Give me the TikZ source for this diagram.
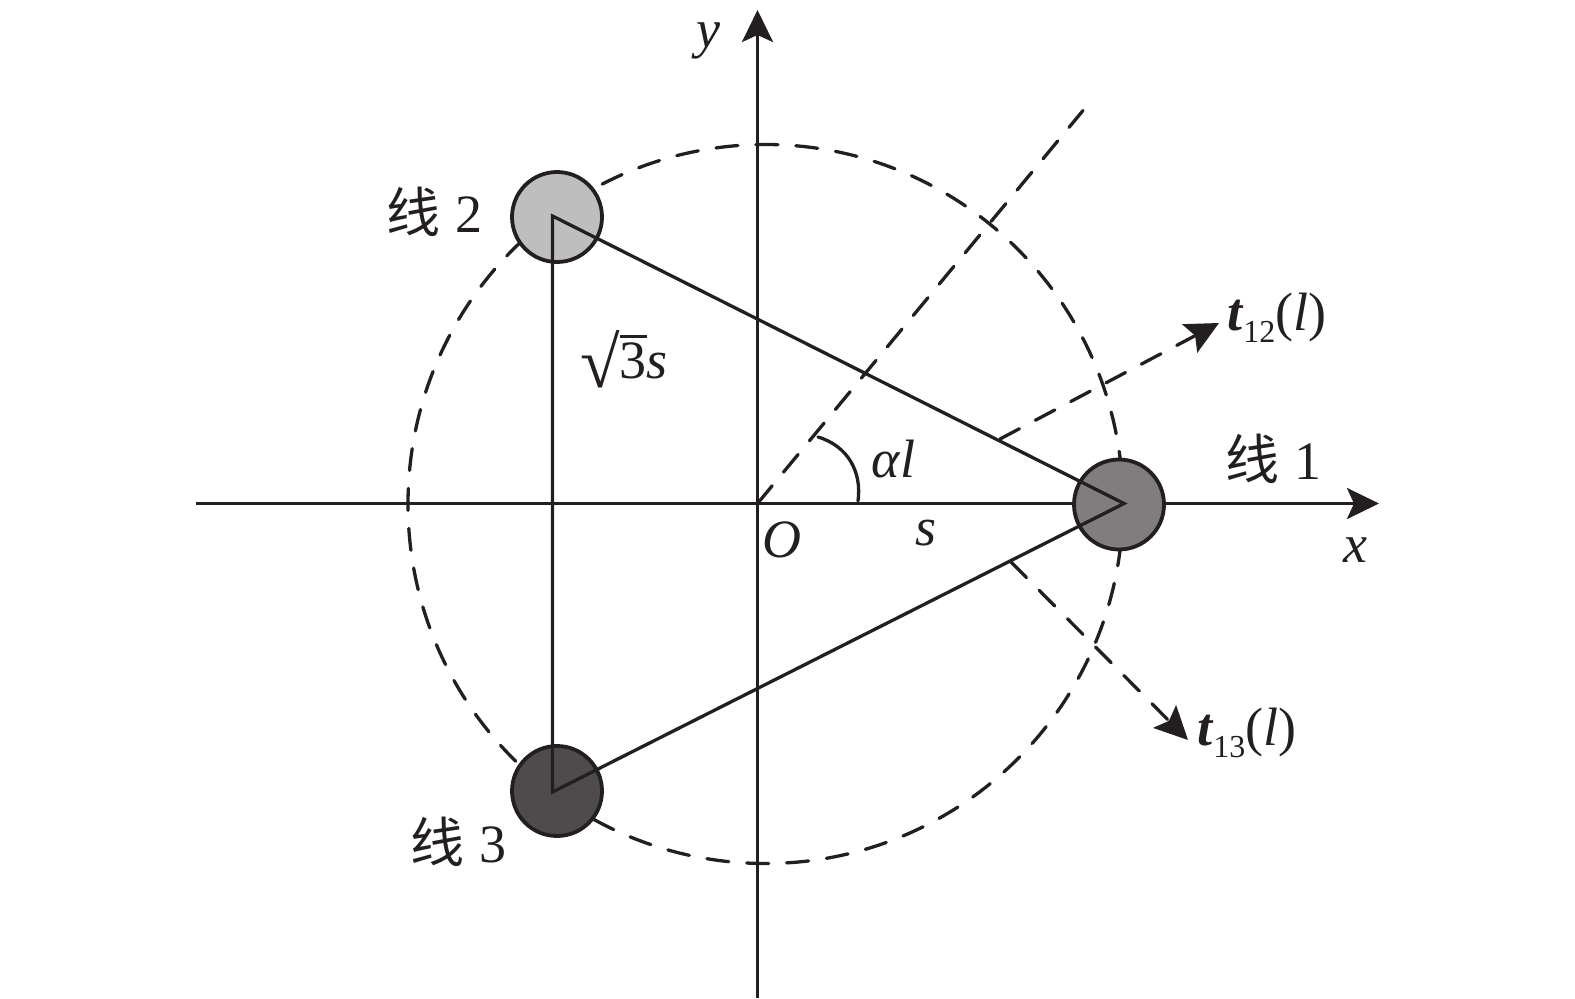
\documentclass[tikz,border=0pt]{standalone}
\usepackage{fontspec}
\setmainfont{Liberation Serif}
\newfontfamily\cjk{Noto Sans CJK SC}[Scale=1.0]
\usetikzlibrary{arrows.meta}
\definecolor{ink}{HTML}{231F20}
\definecolor{wirea}{HTML}{7F7D7E}
\definecolor{wireb}{HTML}{BEBEBE}
\definecolor{wirec}{HTML}{4D4B4C}
\newcommand{\lab}{\fontsize{54}{60}\selectfont}
\newcommand{\cjklab}[1]{{\cjk\fontsize{54}{60}\selectfont #1}}
\newcommand{\tlab}[1]{\textbf{\textit{t}}\raisebox{-12pt}{\fontsize{32}{36}\selectfont #1}(\textit{l})}
\tikzset{
  every node/.style={inner sep=0pt,outer sep=0pt,text=ink,font=\lab},
  solidline/.style={draw=ink,line width=3.3pt},
  dashline/.style={draw=ink,line width=3.3pt,line cap=round,dash pattern=on 22pt off 18pt},
  wire/.style={circle,draw=ink,line width=3.8pt,minimum size=90pt},
  axis/.style={solidline,-{Stealth[length=32pt,width=31pt,inset=7pt]}},
  dasharrow/.style={dashline,-{Stealth[length=33pt,width=32pt,inset=6pt]}},
}
\begin{document}
\begin{tikzpicture}[x=1pt,y=-1pt]
\useasboundingbox (0,0) rectangle (1575,999);
% guide points
\coordinate (O) at (757.5,503.5);
\coordinate (xs) at (196,503.5);
\coordinate (xe) at (1379,503.5);
\coordinate (ys) at (757.5,998);
\coordinate (ye) at (757.5,10);
\coordinate (v1) at (1124,503.5);
\coordinate (v2) at (552.5,216);
\coordinate (v3) at (552.5,792);
\coordinate (d) at (1083,110.5);
\coordinate (a12) at (1000,439);
\coordinate (b12) at (1219,323);
\coordinate (a13) at (1011,562);
\coordinate (b13) at (1188,740);
\coordinate (arcs) at (858,501);
\coordinate (arce) at (818,437);
% dashed circle
\draw[dashline] (765.5,504) ellipse [x radius=357.5,y radius=359.5];
% axes
\draw[axis] (xs) -- (xe);
\draw[axis] (ys) -- (ye);
% wires
\node[wire,fill=wirea] (w1) at (1119,504.5) {};
\node[wire,fill=wireb] (w2) at (557,217) {};
\node[wire,fill=wirec] (w3) at (557,791) {};
% triangle
\draw[solidline,line join=miter] (v2) -- (v1) -- (v3) -- cycle;
% dashed lines
\draw[dashline,dash pattern=on 23pt off 17.7pt] (O) -- (d);
\draw[dasharrow] (a12) -- (b12);
\draw[dasharrow] (a13) -- (b13);
% angle arc
\draw[solidline,line cap=round] (arcs) .. controls (862,472) and (848,446) .. (arce);
% labels
\node[anchor=base west] (ly) at (696,47) {\textit{y}};
\node[anchor=base west] (lx) at (1343,562) {\textit{x}};
\node[anchor=base west] (lO) at (762,557) {\textit{O}};
\node[anchor=base west] (ls) at (915,545) {\textit{s}};
\node[anchor=base west] (lal) at (871,477) {\textit{α}\textit{l}};
\node[anchor=base west] (l1) at (1225,479) {\cjklab{线}\hspace{15pt}1};
\node[anchor=base west] (l2) at (386,232) {\cjklab{线}\hspace{15pt}2};
\node[anchor=base west] (l3) at (410,862) {\cjklab{线}\hspace{15pt}3};
\node[anchor=base west] (lt12) at (1227,330) {\tlab{12}};
\node[anchor=base west] (lt13) at (1197,745) {\tlab{13}};
\node[anchor=base west] (lr) at (580,378) {\raisebox{-9pt}{\fontsize{72}{72}\selectfont √}\hbox{\vbox{\hrule height 2.8pt\kern 4pt\hbox{3}}}\textit{s}};
\end{tikzpicture}
\end{document}
